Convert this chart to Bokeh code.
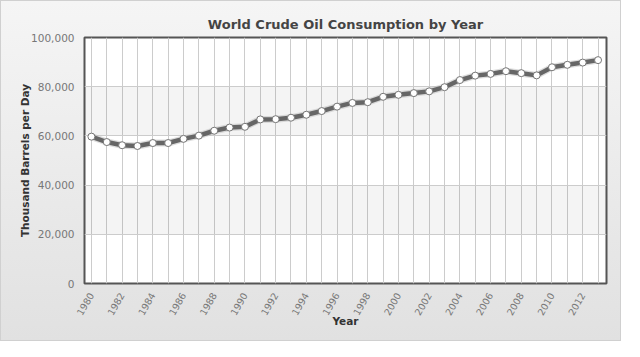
import math
from bokeh.plotting import figure
from bokeh.models import SingleIntervalTicker, NumeralTickFormatter, ColumnDataSource
from bokeh.embed import file_html
from bokeh.resources import INLINE

years = list(range(1980, 2014))
consumption = [59700, 57500, 56200, 55900, 57100, 57100, 58800, 60100, 62100, 63400,
               63700, 66700, 66800, 67400, 68600, 70100, 71900, 73400, 73700, 75900,
               76700, 77400, 78100, 79800, 82700, 84500, 85200, 86300, 85500, 84600,
               87900, 88900, 89800, 90800]

title_text = "World Crude Oil Consumption by Year"
x_label = "Year"
y_label = "Thousand Barrels per Day"

FONT = "DejaVu Sans"

src = ColumnDataSource(dict(year=years, value=consumption))

p = figure(width=621, height=341, output_backend="svg", toolbar_location=None,
           x_range=(1979.55, 2013.55), y_range=(0, 100000),
           title=title_text,
           min_border_left=83, min_border_right=16, min_border_top=36, min_border_bottom=59)

p.styles = {"background": "linear-gradient(#f5f5f5, #e1e1e1)", "border": "1px solid #d0d0d0",
            "box-sizing": "border-box"}
p.border_fill_alpha = 0
p.background_fill_color = "white"

p.title.align = "center"
p.title.text_font = FONT
p.title.text_font_size = "13px"
p.title.text_color = "#444444"
p.title.text_font_style = "bold"
p.title.offset = 0
p.title.standoff = 11

p.outline_line_color = "#555555"
p.outline_line_width = 2

# axes
p.xaxis.ticker = SingleIntervalTicker(interval=2)
p.yaxis.ticker = SingleIntervalTicker(interval=20000)
p.yaxis.formatter = NumeralTickFormatter(format="0,0")
for ax in (p.xaxis[0], p.yaxis[0]):
    ax.axis_line_color = None
    ax.major_tick_line_color = None
    ax.minor_tick_line_color = None
    ax.major_label_text_font = FONT
    ax.major_label_text_font_size = "10.5px"
    ax.major_label_text_color = "#777777"
    ax.axis_label_text_font = FONT
    ax.axis_label_text_font_size = "10.5px"
    ax.axis_label_text_font_style = "bold"
    ax.axis_label_text_color = "#333333"
p.xaxis.major_label_orientation = math.pi / 3
p.xaxis.major_label_text_font_size = "9.5px"
p.xaxis.major_label_standoff = 4
p.xaxis.axis_label_standoff = -6
p.xaxis.axis_label = x_label
p.yaxis.axis_label = y_label
p.yaxis.axis_label_standoff = -3
p.yaxis.major_label_standoff = 4

# grids
p.xgrid.ticker = SingleIntervalTicker(interval=1)
p.xgrid.grid_line_color = "#cccccc"
p.ygrid.ticker = SingleIntervalTicker(interval=20000)
p.ygrid.grid_line_color = "#cccccc"
p.ygrid.band_fill_color = "#000000"
p.ygrid.band_fill_alpha = 0.045

# series
p.line("year", "value", source=src, line_color="#bbbbbb", line_width=7, line_alpha=0.5)
p.line("year", "value", source=src, line_color="#666666", line_width=4.5)
p.scatter("year", "value", source=src, size=7, fill_color="white", line_color="#777777", line_width=1)

open("out.html", "w").write(file_html(p, INLINE))
